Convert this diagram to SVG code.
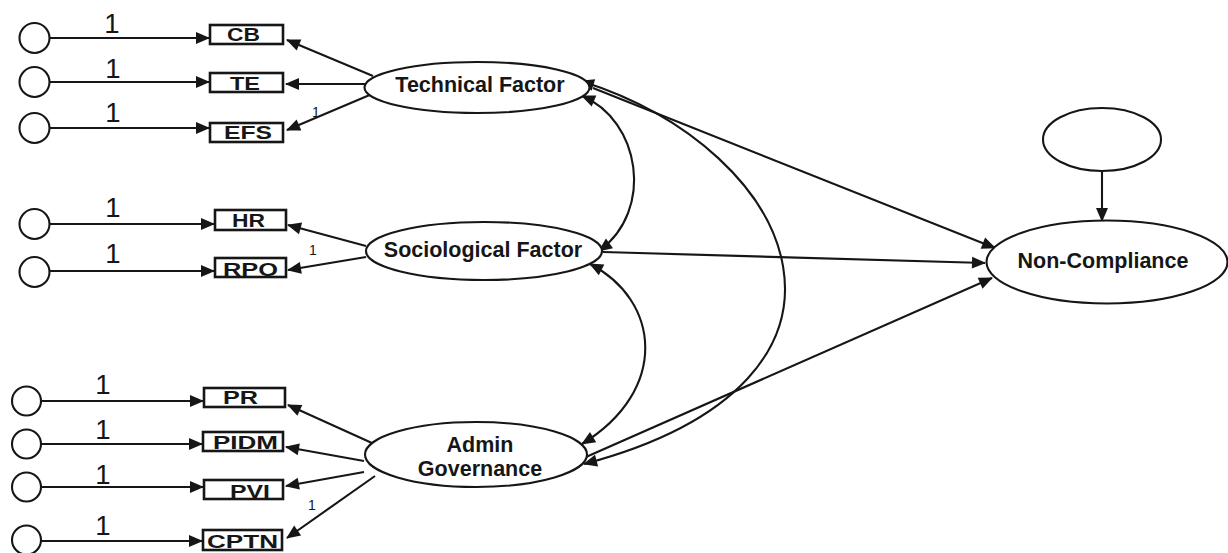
<svg xmlns="http://www.w3.org/2000/svg" width="1228" height="553" viewBox="0 0 1228 553">
<defs>
<marker id="ah" markerUnits="userSpaceOnUse" markerWidth="14" markerHeight="12" refX="13" refY="6" orient="auto-start-reverse" overflow="visible">
<path d="M0,0 L14,6 L0,12 Z" fill="#161616"/>
</marker>
<style>
.e{fill:#fff;stroke:#161616;stroke-width:2.1}
.b{fill:#fff;stroke:#161616;stroke-width:2.6}
.c{fill:none;stroke:#161616;stroke-width:2.1;marker-end:url(#ah)}
.d{fill:none;stroke:#161616;stroke-width:2.1;marker-start:url(#ah);marker-end:url(#ah)}
.bt{font-family:"Liberation Sans",Arial,sans-serif;font-weight:bold;font-size:18.5px;fill:#161616}
.lt{font-family:"Liberation Sans",Arial,sans-serif;font-weight:bold;font-size:21.5px;fill:#161616;text-anchor:middle}
.one{font-family:"Liberation Sans",Arial,sans-serif;font-size:27.5px;fill:#161616;text-anchor:middle}
.sm{font-family:"Liberation Sans",Arial,sans-serif;font-size:14px;fill:#161616;text-anchor:middle}
</style>
</defs>
<rect width="1228" height="553" fill="#fff"/>
<g id="connectors">
<line class="c" x1="50" y1="38" x2="209" y2="38"/>
<line class="c" x1="50" y1="82" x2="209" y2="82"/>
<line class="c" x1="50" y1="128" x2="209" y2="128"/>
<line class="c" x1="50" y1="224" x2="214" y2="224"/>
<line class="c" x1="50" y1="271" x2="214" y2="271"/>
<line class="c" x1="41" y1="401" x2="203" y2="401"/>
<line class="c" x1="41" y1="444" x2="202" y2="444"/>
<line class="c" x1="41" y1="487" x2="203" y2="487"/>
<line class="c" x1="41" y1="541" x2="202" y2="541"/>
<line class="c" x1="373" y1="76" x2="287" y2="40"/>
<line class="c" x1="365" y1="84" x2="286" y2="84"/>
<line class="c" x1="372" y1="94" x2="287" y2="130"/>
<line class="c" x1="366" y1="246" x2="288" y2="225"/>
<line class="c" x1="366" y1="257" x2="288" y2="270"/>
<line class="c" x1="383" y1="448" x2="288" y2="405"/>
<line class="c" x1="364" y1="461" x2="286" y2="447"/>
<line class="c" x1="364" y1="472" x2="286" y2="486"/>
<line class="c" x1="375" y1="476" x2="287" y2="538"/>
<line class="c" x1="593" y1="88" x2="995" y2="248"/>
<line class="c" x1="603" y1="252" x2="985" y2="263"/>
<line class="c" x1="586" y1="457" x2="992" y2="278"/>
<line class="c" x1="1102" y1="171" x2="1102" y2="221"/>
<path class="d" d="M582,96 C640,120 655,210 599,251"/>
<path class="d" d="M590,264 C660,300 670,390 582,444"/>
<path class="d" d="M581,81 C800,150 900,380 584,464"/>
</g>
<g id="labels">
<text class="one" x="112" y="33">1</text>
<text class="one" x="113" y="78">1</text>
<text class="one" x="113" y="122">1</text>
<text class="one" x="113" y="217">1</text>
<text class="one" x="113" y="263">1</text>
<text class="one" x="103" y="394">1</text>
<text class="one" x="103" y="439">1</text>
<text class="one" x="103" y="484">1</text>
<text class="one" x="103" y="535">1</text>
<text class="sm" x="316" y="117">1</text>
<text class="sm" x="313" y="255">1</text>
<text class="sm" x="312" y="510">1</text>
</g>
<g id="e_cb"><circle class="e" cx="34.5" cy="38" r="15"/></g>
<g id="e_te"><circle class="e" cx="34.5" cy="82" r="15"/></g>
<g id="e_efs"><circle class="e" cx="34.5" cy="128" r="15"/></g>
<g id="e_hr"><circle class="e" cx="34.5" cy="224" r="15"/></g>
<g id="e_rpo"><circle class="e" cx="34.5" cy="272" r="15"/></g>
<g id="e_pr"><circle class="e" cx="26.5" cy="401" r="14.5"/></g>
<g id="e_pidm"><circle class="e" cx="26.5" cy="444" r="14.5"/></g>
<g id="e_pvi"><circle class="e" cx="26.5" cy="487" r="14.5"/></g>
<g id="e_cptn"><circle class="e" cx="26.5" cy="540" r="14.5"/></g>
<g id="cb"><rect class="b" x="210" y="25" width="73" height="19"/><text class="bt" x="227" y="41" textLength="33" lengthAdjust="spacingAndGlyphs">CB</text></g>
<g id="te"><rect class="b" x="210" y="73" width="73" height="19"/><text class="bt" x="230" y="89.5" textLength="30" lengthAdjust="spacingAndGlyphs">TE</text></g>
<g id="efs"><rect class="b" x="210" y="123" width="73" height="19"/><text class="bt" x="224" y="139" textLength="48" lengthAdjust="spacingAndGlyphs">EFS</text></g>
<g id="hr"><rect class="b" x="215" y="210" width="71" height="20"/><text class="bt" x="232" y="227" textLength="33" lengthAdjust="spacingAndGlyphs">HR</text></g>
<g id="rpo"><rect class="b" x="215" y="258" width="71" height="19"/><text class="bt" x="223" y="276" textLength="55" lengthAdjust="spacingAndGlyphs">RPO</text></g>
<g id="pr"><rect class="b" x="204" y="388" width="81" height="19"/><text class="bt" x="223" y="404" textLength="35" lengthAdjust="spacingAndGlyphs">PR</text></g>
<g id="pidm"><rect class="b" x="203" y="432" width="80" height="19"/><text class="bt" x="213" y="449" textLength="65" lengthAdjust="spacingAndGlyphs">PIDM</text></g>
<g id="pvi"><rect class="b" x="204" y="480" width="79" height="19"/><text class="bt" x="230" y="497.5" textLength="40" lengthAdjust="spacingAndGlyphs">PVI</text></g>
<g id="cptn"><rect class="b" x="203" y="530" width="79" height="20"/><text class="bt" x="207" y="548" textLength="71" lengthAdjust="spacingAndGlyphs">CPTN</text></g>
<g id="technical"><ellipse class="e" cx="477" cy="87.5" rx="112.5" ry="25.5"/><text class="lt" x="480" y="92">Technical Factor</text></g>
<g id="sociological"><ellipse class="e" cx="484" cy="251" rx="118" ry="29"/><text class="lt" x="483" y="257">Sociological Factor</text></g>
<g id="admin"><ellipse class="e" cx="476" cy="454.5" rx="111" ry="32.5"/><text class="lt" x="480" y="452">Admin</text><text class="lt" x="480" y="476">Governance</text></g>
<g id="noncompliance"><ellipse class="e" cx="1107" cy="262" rx="120.5" ry="41.5"/><text class="lt" x="1103" y="268">Non-Compliance</text></g>
<g id="disturbance"><ellipse class="e" cx="1102" cy="139.5" rx="59" ry="31.5"/></g>
</svg>
